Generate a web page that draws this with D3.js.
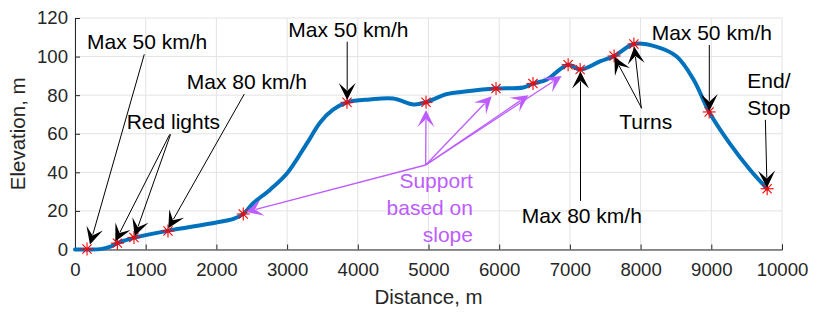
<!DOCTYPE html>
<html>
<head>
<meta charset="utf-8">
<script src="https://cdn.jsdelivr.net/npm/d3@7"></script>
<style>
  body { margin: 0; background: #fff; }
  svg { display: block; font-family: "Liberation Sans", Arial, sans-serif; }
</style>
</head>
<body>
<svg id="chart" width="814" height="315"></svg>
<script>
// route profile
const distance = [0, 170, 360, 500, 600, 830, 1300, 2000, 2250, 2380, 2520, 2760, 3000, 3280, 3470, 3650, 3850, 4170, 4500, 4790, 4965, 5250, 5550, 5955, 6340, 6480, 6670, 6975, 7145, 7425, 7630, 7905, 8230, 8510, 8750, 8970, 9260, 9550, 9790];
const elevation = [0, 0, 0.2, 1.5, 3.3, 6, 9.6, 14, 16, 18.4, 24, 31, 39.5, 55, 66, 72.5, 76.3, 77.8, 78.3, 75.2, 76.3, 80.5, 82, 83.4, 84, 86, 88, 95.8, 93.3, 97.5, 100.3, 106.5, 105, 100, 88, 71.3, 55, 41.2, 31.5];

// event points (red stars)
const eventDistance = [170, 600, 834, 1315, 2380, 3847, 4965, 5955, 6478, 6975, 7145, 7625, 7905, 8970, 9790];
const eventElevation = [0.3, 3.3, 6.2, 9.6, 18.4, 76.3, 76.3, 83.4, 86, 95.8, 93.3, 100.3, 106.5, 71.3, 31.5];

const xTicks = [0, 1000, 2000, 3000, 4000, 5000, 6000, 7000, 8000, 9000, 10000];
const yTicks = [0, 20, 40, 60, 80, 100, 120];

// annotations, data coords
const blackArrows = [
  [[980, 101.2], [212, 2.6]],
  [[1340, 59.7], [570, 4.2]],
  [[1352, 59.7], [845, 7]],
  [[2395, 80.6], [1320, 11]],
  [[3850, 107.7], [3850, 77.5]],
  [[7150, 25.2], [7150, 92.3]],
  [[8016, 73.2], [7630, 99.8]],
  [[8010, 73.2], [7911, 105.1]],
  [[8972, 106], [8972, 71.8]],
  [[9765, 67.2], [9788, 32]]
];
const purpleArrows = [
  [[4960, 43.8], [2420, 19.5]],
  [[4960, 43.8], [4965, 72.3]],
  [[4960, 43.8], [5894, 79.5]],
  [[4960, 43.8], [6414, 80]],
  [[4960, 43.8], [6883, 90]]
];
const notes = [
  { text: 'Max 50 km/h', at: [170, 103.8], anchor: 'start' },
  { text: 'Red lights', at: [731, 62.3], anchor: 'start' },
  { text: 'Max 80 km/h', at: [1580, 83], anchor: 'start' },
  { text: 'Max 50 km/h', at: [3017, 110.3], anchor: 'start' },
  { text: 'Max 80 km/h', at: [6318, 13.6], anchor: 'start' },
  { text: 'Turns', at: [7699, 62.3], anchor: 'start' },
  { text: 'Max 50 km/h', at: [8157, 108.6], anchor: 'start' },
  { text: 'End/', at: [9509, 83.9], anchor: 'start' },
  { text: 'Stop', at: [9509, 69.7], anchor: 'start' }
];
const supportLines = ['Support', 'based on', 'slope'];
const supportAt = [5629, 31.7];

const purple = '#bd5cff';
const svg = d3.select('#chart');
const margin = { left: 75, right: 32, top: 18, bottom: 65.5 };
const W = 814, H = 315;

const x = d3.scaleLinear().domain([0, 10000]).range([margin.left, W - margin.right]);
const y = d3.scaleLinear().domain([0, 120]).range([H - margin.bottom, margin.top]);

svg.append('rect').attr('width', W).attr('height', H).attr('fill', '#fff');

// grid
svg.append('g').selectAll('line').data(xTicks).join('line')
  .attr('x1', d => x(d)).attr('x2', d => x(d))
  .attr('y1', y(0)).attr('y2', y(120))
  .attr('stroke', '#e3e3e3').attr('stroke-width', 1);
svg.append('g').selectAll('line').data(yTicks).join('line')
  .attr('x1', x(0)).attr('x2', x(10000))
  .attr('y1', d => y(d)).attr('y2', d => y(d))
  .attr('stroke', '#e3e3e3').attr('stroke-width', 1);

// axes, ticks pointing inward like matlab
const xAxis = svg.append('g').attr('transform', `translate(0,${y(0)})`)
  .call(d3.axisBottom(x).tickValues(xTicks).tickSize(-5).tickPadding(13).tickFormat(d3.format('d')));
const yAxis = svg.append('g').attr('transform', `translate(${x(0)},0)`)
  .call(d3.axisLeft(y).tickValues(yTicks).tickSize(-5).tickPadding(7).tickFormat(d3.format('d')));
[xAxis, yAxis].forEach(a => {
  a.select('.domain').attr('stroke', '#262626').attr('stroke-width', 1);
  a.selectAll('.tick line').attr('stroke', '#262626');
  a.selectAll('.tick text').attr('fill', '#262626').attr('font-size', 18.6)
    .attr('font-family', '"Liberation Sans", Arial, sans-serif');
});

svg.append('text').attr('x', (x(0) + x(10000)) / 2).attr('y', 304)
  .attr('text-anchor', 'middle').attr('font-size', 20.5).attr('fill', '#262626')
  .text('Distance, m');
svg.append('text').attr('transform', `translate(25,${(y(0) + y(120)) / 2}) rotate(-90)`)
  .attr('text-anchor', 'middle').attr('font-size', 20.5).attr('fill', '#262626')
  .text('Elevation, m');

// profile
const line = d3.line().x((d, i) => x(distance[i])).y(d => y(d)).curve(d3.curveCatmullRom.alpha(0.5));
svg.append('path').datum(elevation).attr('d', line)
  .attr('fill', 'none').attr('stroke', '#0072bd').attr('stroke-width', 4)
  .attr('stroke-linejoin', 'round').attr('stroke-linecap', 'round');

// asterisk markers
const star = svg.append('g').selectAll('g').data(eventDistance).join('g')
  .attr('transform', (d, i) => `translate(${x(d)},${y(eventElevation[i])})`);
[0, 45, 90, 135].forEach(a => {
  star.append('line').attr('x1', -6.5).attr('x2', 6.5).attr('y1', 0).attr('y2', 0)
    .attr('transform', `rotate(${a})`).attr('stroke', '#ff0000').attr('stroke-width', 1.1);
});

// arrows
function arrow(g, from, to, color, w) {
  const x1 = x(from[0]), y1 = y(from[1]), x2 = x(to[0]), y2 = y(to[1]);
  const ang = Math.atan2(y2 - y1, x2 - x1);
  const L = 17, hw = 8.5;
  g.append('line').attr('x1', x1).attr('y1', y1)
    .attr('x2', x2 - Math.cos(ang) * L * 0.6).attr('y2', y2 - Math.sin(ang) * L * 0.6)
    .attr('stroke', color).attr('stroke-width', w);
  const pts = [[0, 0], [-L, -hw], [-L * 0.55, 0], [-L, hw]].map(p => [
    x2 + p[0] * Math.cos(ang) - p[1] * Math.sin(ang),
    y2 + p[0] * Math.sin(ang) + p[1] * Math.cos(ang)
  ]);
  g.append('path').attr('d', 'M' + pts.join('L') + 'Z').attr('fill', color);
}
const ag = svg.append('g');
blackArrows.forEach(a => arrow(ag, a[0], a[1], '#000', 1));
purpleArrows.forEach(a => arrow(ag, a[0], a[1], purple, 1.3));

// text notes
svg.append('g').selectAll('text').data(notes).join('text')
  .attr('x', d => x(d.at[0])).attr('y', d => y(d.at[1]))
  .attr('text-anchor', d => d.anchor).attr('font-size', 21).attr('fill', '#000')
  .text(d => d.text);
svg.append('g').selectAll('text').data(supportLines).join('text')
  .attr('x', x(supportAt[0])).attr('y', (d, i) => y(supportAt[1]) + i * 27)
  .attr('text-anchor', 'end').attr('font-size', 21).attr('fill', purple)
  .text(d => d);
</script>
</body>
</html>
